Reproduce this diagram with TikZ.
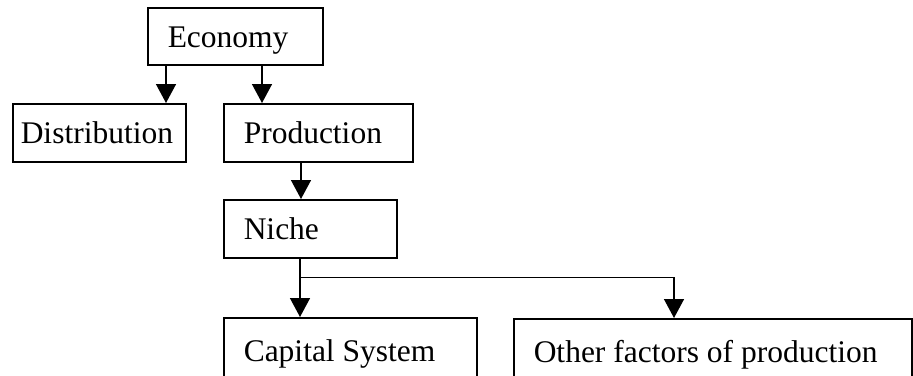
\documentclass[tikz,border=0pt]{standalone}
\usepackage{fontspec}
\setmainfont{Liberation Serif}
\usetikzlibrary{arrows.meta,positioning,calc}

\begin{document}
\begin{tikzpicture} [x=1pt,y=1pt,line width=1.5pt,>={Triangle[width=20pt,length=19pt]}]
    \tikzset {
      box/.style={rectangle,draw,anchor=north west,inner xsep=20pt,align=flush left,
        text height=26pt,text depth=4pt,minimum height=58pt,
        font=\fontsize{31.5}{38}\selectfont}
    }
    \useasboundingbox (0,0) rectangle (913,-375);
    \node [box, text width=135pt, minimum height=57pt] (eco) at (147,-7) {Economy};
    \node [box, text width=157pt, inner xsep=8pt] (dist) at (12,-103) {Distribution};
    \node [box, text width=149pt] (prod) at (223,-103) {Production};
    \node [box, text width=133pt] (niche) at (223,-199) {Niche};
    \node [box, text width=213pt, minimum height=65pt] (cap) at (223,-317) {Capital System};
    \node [box, text width=358pt, minimum height=65pt] (other) at (513,-318) {Other factors of production};

    \draw [->] ([xshift=19pt]eco.south west) to ([xshift=19pt]eco.south west |- dist.north);
    \draw [->] ([xshift=39pt]prod.north west |- eco.south) to ([xshift=39pt]prod.north west);
    \draw [->] ([xshift=78pt]prod.south west) to ([xshift=78pt]prod.south west |- niche.north);
    \draw [->] ([xshift=77pt]niche.south west) to ([xshift=77pt]niche.south west |- cap.north);
    \draw [->] ([xshift=77pt,yshift=-19pt]niche.south west) -| ([xshift=161pt]other.north west);
  \end{tikzpicture}
\end{document}
